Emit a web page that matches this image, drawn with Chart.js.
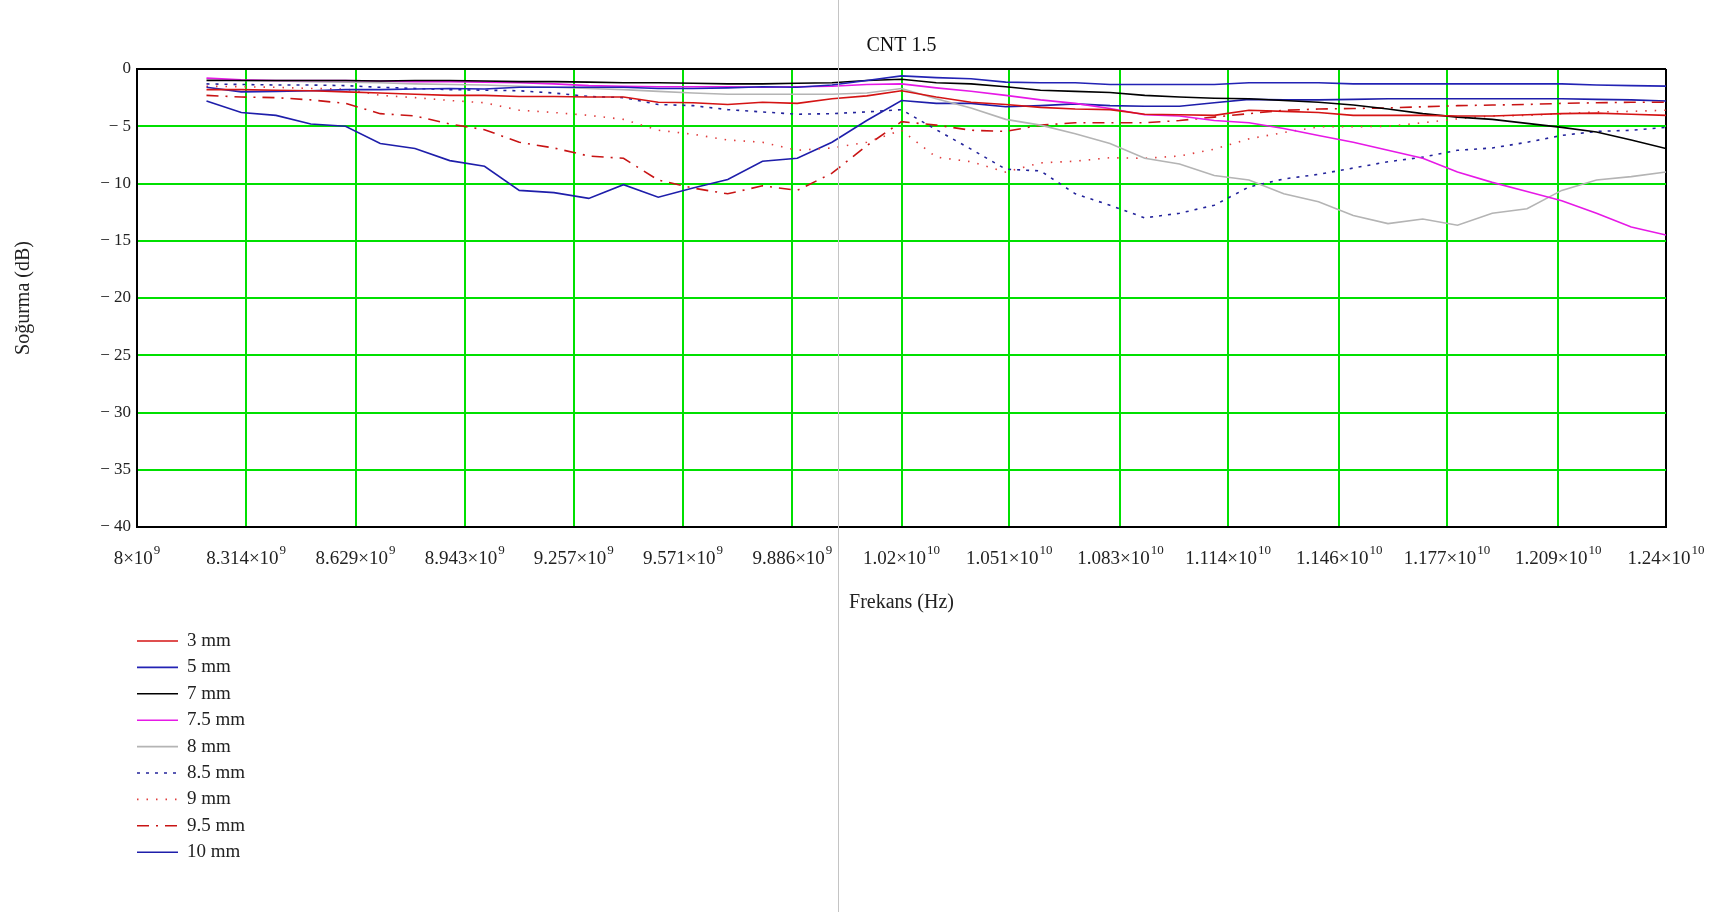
<!DOCTYPE html>
<html>
<head>
<meta charset="utf-8">
<title>CNT 1.5</title>
<script src="https://cdn.jsdelivr.net/npm/chart.js@4.4.0/dist/chart.umd.min.js"></script>
<style>
  html, body { margin: 0; padding: 0; background: #fff; }
  #wrap { position: relative; width: 1722px; height: 912px; }
  #pageLine { position: absolute; left: 838px; top: 0; width: 1px; height: 912px; background: #c4c4c4; }
</style>
</head>
<body>
<div id="wrap">
  <canvas id="myChart" width="1722" height="912"></canvas>
  <div id="pageLine"></div>
</div>
<script>
// frequency points (GHz)
const freqGHz = [8.2, 8.3, 8.4, 8.5, 8.6, 8.7, 8.8, 8.9, 9.0, 9.1, 9.2, 9.3, 9.4, 9.5, 9.6, 9.7, 9.8, 9.9,
  10.0, 10.1, 10.2, 10.3, 10.4, 10.5, 10.6, 10.7, 10.8, 10.9, 11.0, 11.1, 11.2, 11.3, 11.4, 11.5, 11.6,
  11.7, 11.8, 11.9, 12.0, 12.1, 12.2, 12.3, 12.4];

// absorption (dB) per thickness
const mm3 = [-1.8, -1.8, -1.85, -1.9, -2.0, -2.1, -2.2, -2.3, -2.3, -2.4, -2.4, -2.45, -2.45, -2.9, -2.95, -3.1, -2.9, -3.0,
  -2.6, -2.35, -1.9, -2.45, -2.9, -3.1, -3.35, -3.5, -3.55, -3.95, -4.0, -4.05, -3.6, -3.7, -3.8, -4.05, -4.05,
  -4.05, -4.1, -4.1, -4.0, -3.9, -3.85, -3.95, -4.05];
const mm5 = [-1.6, -2.0, -1.95, -1.9, -1.8, -1.8, -1.75, -1.7, -1.75, -1.6, -1.6, -1.6, -1.6, -1.7, -1.7, -1.65, -1.55, -1.6,
  -1.4, -1.0, -0.6, -0.75, -0.85, -1.15, -1.2, -1.2, -1.35, -1.35, -1.35, -1.35, -1.2, -1.2, -1.2, -1.3, -1.3,
  -1.3, -1.3, -1.3, -1.3, -1.3, -1.4, -1.45, -1.5];
const mm7 = [-1.0, -1.0, -1.0, -1.0, -1.0, -1.05, -1.0, -1.0, -1.05, -1.1, -1.1, -1.15, -1.2, -1.2, -1.25, -1.3, -1.3, -1.25,
  -1.2, -1.0, -0.9, -1.2, -1.3, -1.55, -1.85, -1.95, -2.05, -2.3, -2.45, -2.55, -2.6, -2.75, -2.9, -3.15, -3.5,
  -3.9, -4.2, -4.4, -4.75, -5.1, -5.5, -6.2, -6.95];
const mm7_5 = [-0.8, -0.95, -1.0, -1.0, -1.0, -1.05, -1.1, -1.1, -1.15, -1.2, -1.3, -1.45, -1.5, -1.55, -1.55, -1.55, -1.6, -1.55,
  -1.5, -1.35, -1.3, -1.65, -1.95, -2.3, -2.7, -3.0, -3.45, -4.0, -4.1, -4.5, -4.7, -5.2, -5.8, -6.4, -7.1,
  -7.8, -9.0, -9.9, -10.7, -11.5, -12.6, -13.8, -14.5];
const mm8 = [-0.9, -1.0, -1.05, -1.1, -1.15, -1.2, -1.3, -1.35, -1.4, -1.5, -1.6, -1.7, -1.8, -1.95, -2.1, -2.2, -2.2, -2.2,
  -2.2, -2.1, -1.7, -2.6, -3.4, -4.4, -4.9, -5.65, -6.5, -7.8, -8.3, -9.3, -9.7, -10.9, -11.6, -12.8, -13.5,
  -13.1, -13.65, -12.6, -12.2, -10.6, -9.7, -9.4, -9.0];
const mm8_5 = [-1.3, -1.35, -1.4, -1.4, -1.45, -1.6, -1.7, -1.8, -1.85, -1.9, -2.1, -2.4, -2.5, -3.1, -3.2, -3.55, -3.75, -3.95,
  -3.9, -3.75, -3.55, -5.3, -7.0, -8.75, -8.9, -10.9, -11.9, -13.0, -12.6, -11.9, -10.3, -9.6, -9.2, -8.65, -8.1,
  -7.7, -7.1, -6.9, -6.4, -5.8, -5.45, -5.35, -5.1];
const mm9 = [-1.5, -1.55, -1.6, -1.7, -1.75, -2.3, -2.5, -2.75, -2.95, -3.6, -3.8, -4.05, -4.4, -5.35, -5.7, -6.2, -6.4, -7.1,
  -6.9, -6.4, -5.35, -7.7, -8.1, -9.0, -8.2, -8.05, -7.75, -7.8, -7.6, -7.0, -6.1, -5.55, -5.05, -5.05, -5.0,
  -4.7, -4.35, -4.1, -4.05, -3.9, -3.75, -3.7, -3.6];
const mm9_5 = [-2.3, -2.45, -2.5, -2.7, -3.0, -3.9, -4.1, -4.8, -5.3, -6.4, -6.9, -7.6, -7.8, -9.7, -10.4, -10.9, -10.2, -10.6,
  -9.1, -6.7, -4.6, -4.9, -5.35, -5.45, -4.9, -4.7, -4.7, -4.7, -4.5, -4.2, -3.9, -3.6, -3.5, -3.45, -3.4,
  -3.3, -3.2, -3.15, -3.1, -3.0, -2.95, -2.9, -2.9];
const mm10 = [-2.8, -3.8, -4.05, -4.8, -5.0, -6.5, -6.95, -8.0, -8.5, -10.6, -10.8, -11.3, -10.1, -11.2, -10.4, -9.65, -8.05, -7.8,
  -6.4, -4.5, -2.75, -3.0, -3.0, -3.3, -3.2, -3.05, -3.2, -3.25, -3.25, -2.95, -2.65, -2.7, -2.7, -2.65, -2.6,
  -2.6, -2.6, -2.6, -2.6, -2.6, -2.65, -2.7, -2.8];

// axis ticks (x labels are mantissa × 10^exponent)
const xTickVals = [8e9, 8.314e9, 8.629e9, 8.943e9, 9.257e9, 9.571e9, 9.886e9, 1.02e10, 1.051e10,
  1.083e10, 1.114e10, 1.146e10, 1.177e10, 1.209e10, 1.24e10];
const xTickMant = ['8', '8.314', '8.629', '8.943', '9.257', '9.571', '9.886',
  '1.02', '1.051', '1.083', '1.114', '1.146', '1.177', '1.209', '1.24'];
const xTickExp = ['9', '9', '9', '9', '9', '9', '9', '10', '10', '10', '10', '10', '10', '10', '10'];
const yTickVals = [0, -5, -10, -15, -20, -25, -30, -35, -40];
const yTickLabels = ['0', '− 5', '− 10', '− 15', '− 20', '− 25', '− 30', '− 35', '− 40'];

const chartTitle = 'CNT 1.5';
const FONT = '"Liberation Serif", "Times New Roman", serif';
const GREEN = '#00e000';

function pts(vals) {
  return freqGHz.map((f, i) => ({ x: f * 1e9, y: vals[i] }));
}

function line(label, vals, color, dash) {
  return {
    label: label,
    data: pts(vals),
    borderColor: color,
    backgroundColor: color,
    borderWidth: 1.6,
    borderDash: dash || [],
    pointRadius: 0,
    tension: 0,
    fill: false
  };
}

// title over the plot, x labels with raised exponents, and the legend under the plot
const overlay = {
  id: 'overlay',
  afterDraw(chart) {
    const ctx = chart.ctx;
    const area = chart.chartArea;
    const xs = chart.scales.x;
    ctx.save();

    ctx.fillStyle = '#111';
    ctx.font = '20px ' + FONT;
    ctx.textAlign = 'center';
    ctx.textBaseline = 'middle';
    ctx.fillText(chartTitle, (area.left + area.right) / 2, 46);

    ctx.fillStyle = '#222';
    ctx.textAlign = 'left';
    ctx.textBaseline = 'alphabetic';
    xTickVals.forEach((v, i) => {
      const base = xTickMant[i] + '×10';
      ctx.font = '19px ' + FONT;
      const wb = ctx.measureText(base).width;
      ctx.font = '13px ' + FONT;
      const we = ctx.measureText(xTickExp[i]).width;
      const x0 = xs.getPixelForValue(v) - (wb + we + 1) / 2;
      ctx.font = '19px ' + FONT;
      ctx.fillText(base, x0, 564);
      ctx.font = '13px ' + FONT;
      ctx.fillText(xTickExp[i], x0 + wb + 1, 554);
    });

    ctx.font = '19px ' + FONT;
    ctx.textBaseline = 'middle';
    chart.data.datasets.forEach((ds, i) => {
      const y = 641 + i * 26.4;
      ctx.strokeStyle = ds.borderColor;
      ctx.lineWidth = ds.borderWidth;
      ctx.setLineDash(ds.borderDash);
      ctx.beginPath();
      ctx.moveTo(137, y);
      ctx.lineTo(178, y);
      ctx.stroke();
      ctx.setLineDash([]);
      ctx.fillStyle = '#222';
      ctx.fillText(ds.label, 187, y);
    });
    ctx.restore();
  }
};

document.addEventListener('DOMContentLoaded', function() {
  const ctx = document.getElementById('myChart');

  new Chart(ctx, {
    type: 'line',
    data: {
      datasets: [
        line('3 mm', mm3, '#d41414'),
        line('5 mm', mm5, '#2323b4'),
        line('7 mm', mm7, '#000000'),
        line('7.5 mm', mm7_5, '#e619e6'),
        line('8 mm', mm8, '#b4b4b4'),
        line('8.5 mm', mm8_5, '#23239b', [3, 6]),
        line('9 mm', mm9, '#e03c3c', [1.5, 8]),
        line('9.5 mm', mm9_5, '#c81414', [12, 7, 2, 7]),
        line('10 mm', mm10, '#1e1eaa')
      ]
    },
    plugins: [overlay],
    options: {
      responsive: false,
      animation: false,
      layout: { padding: { left: 0, right: 56, top: 69, bottom: 295 } },
      plugins: {
        legend: { display: false },
        tooltip: { enabled: false },
        title: { display: false }
      },
      scales: {
        x: {
          type: 'linear',
          min: 8e9,
          max: 1.24e10,
          afterBuildTicks: s => { s.ticks = xTickVals.map(v => ({ value: v })); },
          afterFit: s => { s.height = 90; },
          ticks: { display: false, autoSkip: false, maxRotation: 0 },
          grid: {
            drawTicks: false,
            lineWidth: 2,
            color: c => (c.index === 0 || c.index === xTickVals.length - 1) ? '#000' : GREEN
          },
          border: { color: '#000', width: 2 },
          title: {
            display: true,
            text: 'Frekans (Hz)',
            color: '#222',
            font: { family: FONT, size: 20 },
            padding: { top: 0, bottom: 2 }
          }
        },
        y: {
          min: -40,
          max: 0,
          afterBuildTicks: s => { s.ticks = yTickVals.map(v => ({ value: v })); },
          afterFit: s => { s.width = 137; },
          ticks: {
            padding: 6,
            color: '#222',
            font: { family: FONT, size: 17 },
            callback: (v, i) => yTickLabels[i]
          },
          grid: {
            drawTicks: false,
            lineWidth: 2,
            color: c => (c.index === 0 || c.index === yTickVals.length - 1) ? '#000' : GREEN
          },
          border: { color: '#000', width: 2 },
          title: {
            display: true,
            text: 'Soğurma (dB)',
            color: '#222',
            font: { family: FONT, size: 20 },
            padding: { top: 12, bottom: 0 }
          }
        }
      }
    }
  });
});
</script>
</body>
</html>
